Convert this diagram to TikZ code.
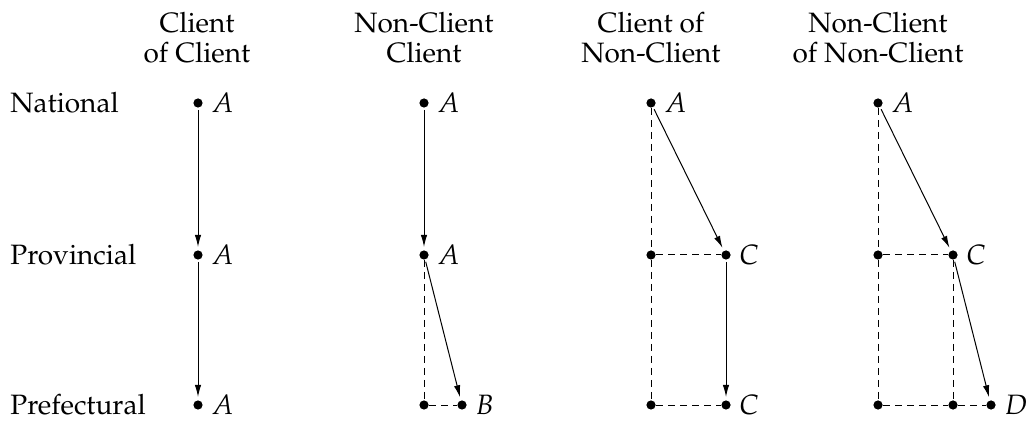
\documentclass[tikz,border=0pt]{standalone}
\usepackage[T1]{fontenc}
\usepackage{mathpazo}
\usetikzlibrary{arrows.meta}
\begin{document}
\begin{tikzpicture}[x=0.5pt,y=-0.5pt,
  every node/.style={font=\fontsize{14}{15}\selectfont},
  dot/.style={circle,fill,inner sep=0pt,minimum size=4.6pt},
  lab/.style={anchor=base west,inner sep=0pt},
  rowlab/.style={anchor=base west,inner sep=0pt},
  head/.style={anchor=base,align=center,inner sep=0pt},
  arr/.style={line width=0.5pt,-{Latex[length=6pt,width=3.2pt]},shorten >=1.5pt,shorten <=1pt},
  dsh/.style={line width=0.5pt,dash pattern=on 3.5pt off 2.5pt}]
\useasboundingbox (0,0) rectangle (1034,422);
% headers
\node[head] (h1) at (197,63) {Client\\of Client};
\node[head] (h2) at (424,63) {Non-Client\\Client};
\node[head] (h3) at (651,63) {Client of\\Non-Client};
\node[head] (h4) at (878,63) {Non-Client\\of Non-Client};
% row labels
\node[rowlab] (r1) at (10,113) {National};
\node[rowlab] (r2) at (10,265) {Provincial};
\node[rowlab] (r3) at (10,415) {Prefectural};
% dots
\node[dot] (t1) at (198,103) {};
\node[dot] (m1) at (198,255) {};
\node[dot] (b1) at (198,405) {};
\node[dot] (t2) at (424,103) {};
\node[dot] (m2) at (424,255) {};
\node[dot] (b2) at (424,405) {};
\node[dot] (b2r) at (462,405) {};
\node[dot] (t3) at (651,103) {};
\node[dot] (m3) at (651,255) {};
\node[dot] (m3r) at (726,255) {};
\node[dot] (b3) at (651,405) {};
\node[dot] (b3r) at (726,405) {};
\node[dot] (t4) at (878,103) {};
\node[dot] (m4) at (878,255) {};
\node[dot] (m4r) at (953,255) {};
\node[dot] (b4) at (878,405) {};
\node[dot] (b4r) at (953,405) {};
\node[dot] (b4rr) at (991,405) {};
% labels
\foreach \d/\t in {t1/A,m1/A,b1/A,t2/A,m2/A,b2r/B,t3/A,m3r/C,b3r/C,t4/A,m4r/C,b4rr/D}
  \node[lab] (l\d) at ([shift={(6.5pt,-5pt)}]\d) {$\t$};
% column 1
\draw[arr] (t1) -- (m1);
\draw[arr] (m1) -- (b1);
% column 2
\draw[arr] (t2) -- (m2);
\draw[dsh] (m2) -- (b2);
\draw[dsh] (b2) -- (b2r);
\draw[arr] (m2) -- (b2r);
% column 3
\draw[dsh] (t3) -- (m3);
\draw[dsh] (m3) -- (m3r);
\draw[arr] (t3) -- (m3r);
\draw[dsh] (m3) -- (b3);
\draw[dsh] (b3) -- (b3r);
\draw[arr] (m3r) -- (b3r);
% column 4
\draw[dsh] (t4) -- (m4);
\draw[dsh] (m4) -- (m4r);
\draw[arr] (t4) -- (m4r);
\draw[dsh] (m4) -- (b4);
\draw[dsh] (b4) -- (b4r);
\draw[dsh] (b4r) -- (b4rr);
\draw[dsh] (m4r) -- (b4r);
\draw[arr] (m4r) -- (b4rr);
\end{tikzpicture}
\end{document}
